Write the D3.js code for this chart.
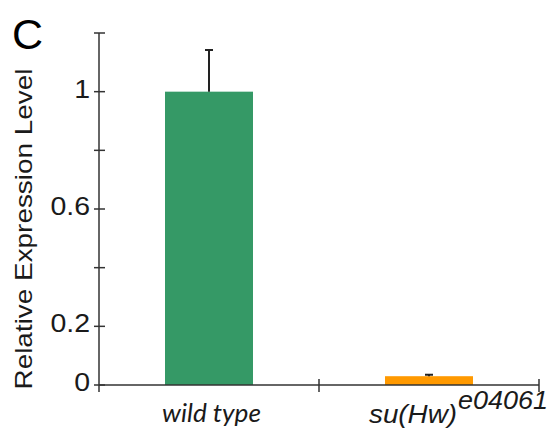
<!DOCTYPE html>
<html>
<head>
<meta charset="utf-8">
<script src="https://cdn.jsdelivr.net/npm/d3@7"></script>
<style>
  body { margin: 0; background: #fff; }
  text { font-family: "Liberation Sans", Arial, sans-serif; fill: #1a1a1a; }
</style>
</head>
<body>
<svg id="chart" width="553" height="436"></svg>
<script>
// data
var categories = ["wild type", "su(Hw)"];
var values = [1.0, 0.03];
var errors = [0.142, 0.005];
var colors = ["#359966", "#ff9900"];
var yTicks = [0, 0.2, 0.4, 0.6, 0.8, 1, 1.2];
var yLabels = [0, 0.2, 0.6, 1];

var svg = d3.select("#chart");

var x = d3.scaleBand()
    .domain(categories)
    .range([99, 539]);

var y = d3.scaleLinear()
    .domain([0, 1.2])
    .range([385, 33]);

var barW = x.bandwidth() * 0.4;

// bars
svg.append("g")
    .selectAll("rect")
    .data(categories)
    .enter().append("rect")
    .attr("x", function (d) { return x(d) + x.bandwidth() / 2 - barW / 2; })
    .attr("y", function (d, i) { return y(values[i]); })
    .attr("width", barW)
    .attr("height", function (d, i) { return y(0) - y(values[i]); })
    .attr("fill", function (d, i) { return colors[i]; });

// error bars
var err = svg.append("g").attr("stroke", "#222").attr("stroke-width", 2);
categories.forEach(function (d, i) {
    var cx = x(d) + x.bandwidth() / 2;
    err.append("line")
        .attr("x1", cx).attr("x2", cx)
        .attr("y1", y(values[i])).attr("y2", y(values[i] + errors[i]));
    err.append("line")
        .attr("x1", cx - 4).attr("x2", cx + 4)
        .attr("y1", y(values[i] + errors[i])).attr("y2", y(values[i] + errors[i]));
});

// y axis
var yAxis = svg.append("g").attr("stroke", "#333").attr("stroke-width", 1.5);
yAxis.append("line")
    .attr("x1", x.range()[0]).attr("x2", x.range()[0])
    .attr("y1", y(1.2)).attr("y2", y(0) + 7);
yAxis.selectAll(".yt")
    .data(yTicks)
    .enter().append("line")
    .attr("x1", x.range()[0] - 5).attr("x2", x.range()[0] + 6)
    .attr("y1", function (d) { return y(d); })
    .attr("y2", function (d) { return y(d); });

svg.append("g")
    .selectAll("text")
    .data(yLabels)
    .enter().append("text")
    .attr("transform", function (d) { return "translate(90," + (y(d) + 6) + ")scale(1.14,1)"; })
    .attr("text-anchor", "end")
    .attr("font-size", 25)
    .text(function (d) { return d; });

// x axis
var xAxis = svg.append("g").attr("stroke", "#333").attr("stroke-width", 1.5);
xAxis.append("line")
    .attr("x1", x.range()[0]).attr("x2", x.range()[1])
    .attr("y1", y(0)).attr("y2", y(0));
xAxis.selectAll(".xt")
    .data(categories)
    .enter().append("line")
    .attr("x1", function (d) { return x(d) + x.bandwidth(); })
    .attr("x2", function (d) { return x(d) + x.bandwidth(); })
    .attr("y1", y(0) - 6).attr("y2", y(0) + 7);

// x labels
svg.append("text")
    .attr("x", 162)
    .attr("y", 422)
    .attr("font-size", 25)
    .attr("font-style", "italic")
    .attr("textLength", 99)
    .attr("lengthAdjust", "spacingAndGlyphs")
    .style("font-family", "Lato, 'Open Sans', sans-serif")
    .text(categories[0]);

svg.append("text")
    .attr("x", 369)
    .attr("y", 423)
    .attr("font-size", 25)
    .attr("font-style", "italic")
    .attr("textLength", 88)
    .attr("lengthAdjust", "spacingAndGlyphs")
    .text(categories[1]);

svg.append("text")
    .attr("x", 458)
    .attr("y", 409)
    .attr("font-size", 25)
    .attr("font-style", "italic")
    .attr("textLength", 90)
    .attr("lengthAdjust", "spacingAndGlyphs")
    .text("e04061");

// y title
svg.append("text")
    .attr("transform", "translate(32,229)rotate(-90)")
    .attr("text-anchor", "middle")
    .attr("font-size", 24)
    .attr("textLength", 321)
    .attr("lengthAdjust", "spacingAndGlyphs")
    .text("Relative Expression Level");

// panel letter
svg.append("text")
    .attr("x", 12)
    .attr("y", 49)
    .attr("font-size", 43)
    .style("fill", "#000")
    .text("C");
</script>
</body>
</html>
